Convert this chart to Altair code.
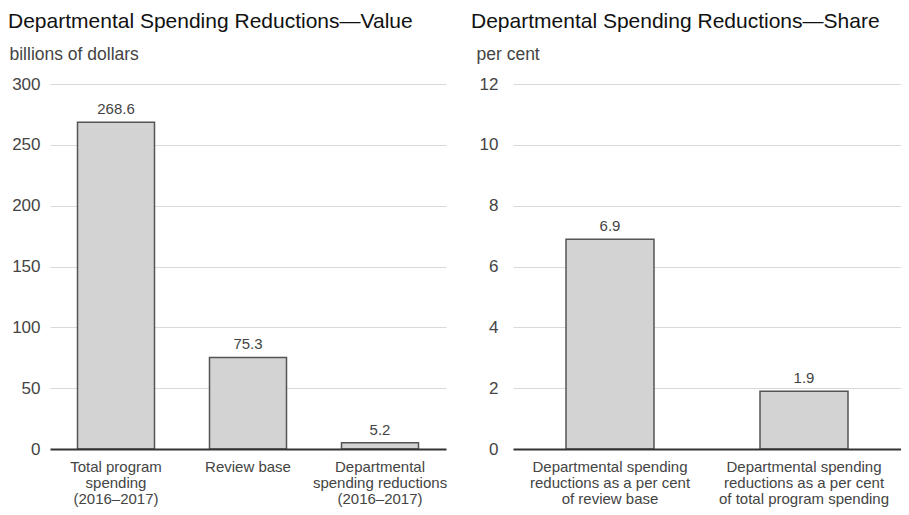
import altair as alt
import pandas as pd

FONT = "Liberation Sans, Arial, Helvetica, sans-serif"

# Left panel: Departmental Spending Reductions—Value (billions of dollars)
value_categories = [
    "Total program|spending|(2016–2017)",
    "Review base",
    "Departmental|spending reductions|(2016–2017)",
]
value_amounts = [268.6, 75.3, 5.2]
value_ticks = [0, 50, 100, 150, 200, 250, 300]

# Right panel: Departmental Spending Reductions—Share (per cent)
share_categories = [
    "Departmental spending|reductions as a per cent|of review base",
    "Departmental spending|reductions as a per cent|of total program spending",
]
share_amounts = [6.9, 1.9]
share_ticks = [0, 2, 4, 6, 8, 10, 12]


def panel(cats, vals, ticks, ymax, ytitle, title, width, bar_size, label_pad, title_x):
    df = pd.DataFrame({"cat": cats, "val": vals})
    base = alt.Chart(df)
    x = alt.X(
        "cat:N",
        sort=cats,
        scale=alt.Scale(paddingInner=0, paddingOuter=0),
        axis=alt.Axis(
            title=None,
            labelAngle=0,
            labelExpr="split(datum.label, '|')",
            ticks=False,
            domain=True,
            domainColor="#333333",
            domainWidth=2,
            labelFontSize=15,
            labelLineHeight=16,
            labelPadding=10,
            labelColor="#444444",
            labelFont=FONT,
            grid=False,
            zindex=2,
        ),
    )
    y = alt.Y(
        "val:Q",
        scale=alt.Scale(domain=[0, ymax], nice=False),
        axis=alt.Axis(
            values=ticks,
            title=ytitle,
            titleAngle=0,
            titleAlign="left",
            titleX=title_x,
            titleY=-25,
            titleBaseline="alphabetic",
            titleFontSize=17.5,
            titleFontWeight="normal",
            titleColor="#444444",
            titleFont=FONT,
            labelFontSize=17,
            labelColor="#444444",
            labelFont=FONT,
            labelPadding=label_pad,
            ticks=False,
            domain=False,
            grid=True,
            gridColor="#d9d9d9",
            gridWidth=1,
            minExtent=42,
            maxExtent=42,
        ),
    )
    bars = base.mark_bar(
        size=bar_size, fill="#d3d3d3", stroke="#555555", strokeWidth=1.5
    ).encode(x=x, y=y)
    text = base.mark_text(
        baseline="bottom", dy=-5, fontSize=15, color="#444444", font=FONT
    ).encode(x=x, y=y, text=alt.Text("val:Q", format=".1f"))
    return alt.layer(bars, text).properties(
        width=width,
        height=365,
        title=alt.TitleParams(
            title,
            anchor="start",
            fontSize=21,
            fontWeight="normal",
            color="#111111",
            font=FONT,
            offset=13,
        ),
    )


left = panel(value_categories, value_amounts, value_ticks, 300,
             "billions of dollars", "Departmental Spending Reductions—Value",
             396, 77, 10, -41)
right = panel(share_categories, share_amounts, share_ticks, 12,
              "per cent", "Departmental Spending Reductions—Share",
              388, 88, 15, -37)

chart = (
    alt.hconcat(left, right, spacing=24)
    .properties(padding={"left": 0, "top": 3, "right": 0, "bottom": 4})
    .configure(font=FONT)
    .configure_view(strokeWidth=0, stroke="transparent")
)

chart.save("out.html", embed_options={"renderer": "svg", "actions": False})
